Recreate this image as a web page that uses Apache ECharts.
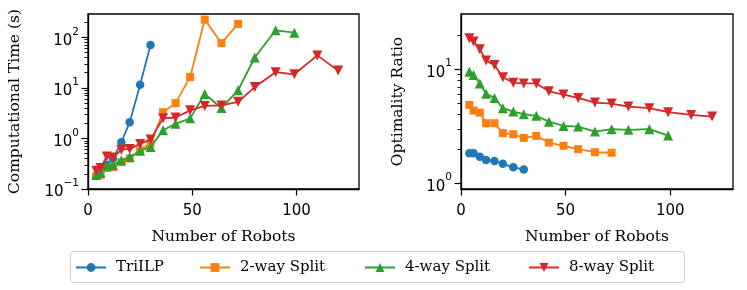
<!DOCTYPE html>
<html>
<head>
<meta charset="utf-8">
<script src="https://cdn.jsdelivr.net/npm/echarts@6/dist/echarts.min.js"></script>
<style>
html,body{margin:0;padding:0;background:#fff;}
#chart{width:747px;height:290px;}
</style>
</head>
<body>
<div id="chart"></div>
<script>
// ---- data ----
const seriesNames = ['TriILP', '2-way Split', '4-way Split', '8-way Split'];
const colors = ['#1f77b4', '#ff7f0e', '#2ca02c', '#d62728'];

const xTriILP = [4, 6, 9, 12, 16, 20, 25, 30];
const x2way = [4, 6, 9, 12, 16, 20, 25, 30, 36, 42, 49, 56, 64, 72];
const x4way = [4, 6, 9, 12, 16, 20, 25, 30, 36, 42, 49, 56, 64, 72, 80, 90, 99];
const x8way = [4, 6, 9, 12, 16, 20, 25, 30, 36, 42, 49, 56, 64, 72, 80, 90, 99, 110, 120];

// Computational time (s)
const timeTriILP = [0.18, 0.22, 0.3, 0.4, 0.84, 2.1, 11.5, 71];
const time2way = [0.18, 0.19, 0.26, 0.27, 0.34, 0.4, 0.58, 0.8, 3.3, 5.0, 16.5, 225, 77, 185];
const time4way = [0.19, 0.21, 0.29, 0.3, 0.37, 0.43, 0.57, 0.68, 1.45, 1.95, 2.5, 7.6, 4.0, 9.0, 40, 138, 124];
const time8way = [0.23, 0.26, 0.44, 0.42, 0.6, 0.62, 0.78, 0.95, 2.5, 2.6, 3.6, 4.4, 4.5, 5.3, 10.4, 20.5, 18.6, 44, 22];

// Optimality ratio
const ratioTriILP = [1.83, 1.83, 1.71, 1.60, 1.57, 1.48, 1.38, 1.32];
const ratio2way = [4.86, 4.34, 4.16, 3.36, 3.36, 2.75, 2.69, 2.50, 2.60, 2.27, 2.13, 1.99, 1.87, 1.85];
const ratio4way = [9.5, 8.9, 7.5, 6.1, 5.6, 4.55, 4.25, 4.03, 3.9, 3.47, 3.18, 3.14, 2.84, 2.98, 2.94, 2.98, 2.62];
const ratio8way = [18.7, 17.5, 15.0, 11.9, 10.9, 8.5, 7.6, 7.5, 7.5, 6.4, 6.0, 5.6, 5.1, 5.0, 4.7, 4.55, 4.2, 3.97, 3.84];

// ticks
const xTicks = [0, 50, 100];
const timeMajor = [0.1, 1, 10, 100];
const timeMinor = [0.2,0.3,0.4,0.5,0.6,0.7,0.8,0.9,2,3,4,5,6,7,8,9,20,30,40,50,60,70,80,90,200];
const ratioMajor = [1, 10];
const ratioMinor = [2,3,4,5,6,7,8,9,20];

// ---- chart ----
const xs = [xTriILP, x2way, x4way, x8way];
const times = [timeTriILP, time2way, time4way, time8way];
const ratios = [ratioTriILP, ratio2way, ratio4way, ratio8way];
const symbols = ['circle', 'rect', 'triangle', 'triangle'];
const symbolSizes = [8.5, 8, 10, 10];
const symbolRotates = [0, 0, 0, 180];

const SANS = 'DejaVu Sans';
const SERIF = 'DejaVu Serif';
const G1 = {left: 88, top: 14, width: 271, height: 175};
const G2 = {left: 461, top: 14, width: 272, height: 175};

function supLabel(v) {
  const e = Math.round(Math.log10(v));
  const s = e < 0 ? '\u2212' + (-e) : String(e);
  return '{b|10}{s|' + s + '}';
}
const richSup = {
  b: {fontSize: 15, fontFamily: SANS, color: '#000', lineHeight: 22, verticalAlign: 'bottom'},
  s: {fontSize: 10.5, fontFamily: SANS, color: '#000', lineHeight: 11, verticalAlign: 'top'}
};

function makeX(gridIndex) {
  return {
    type: 'value', gridIndex: gridIndex, min: 0, max: 130,
    name: 'Number of Robots', nameLocation: 'middle', nameGap: 40,
    nameTextStyle: {fontFamily: SERIF, fontSize: 15.5, color: '#000'},
    axisLine: {show: true, onZero: false, lineStyle: {color: '#000', width: 1.3}},
    axisTick: {show: true, inside: false, length: 6.5, lineStyle: {color: '#000', width: 1.2}, customValues: xTicks},
    axisLabel: {show: true, margin: 15, fontFamily: SANS, fontSize: 15, color: '#000', customValues: xTicks},
    splitLine: {show: false}
  };
}
function makeXHidden(gridIndex) {
  return {type: 'value', gridIndex: gridIndex, min: 0, max: 130, show: false};
}
function makeYMajor(gridIndex, min, max, name, nameGap, major) {
  return {
    type: 'log', logBase: 10, gridIndex: gridIndex, min: min, max: max, position: 'left',
    name: name, nameLocation: 'middle', nameGap: nameGap,
    nameTextStyle: {fontFamily: SERIF, fontSize: 15.5, color: '#000'},
    axisLine: {show: true, onZero: false, lineStyle: {color: '#000', width: 1.3}},
    axisTick: {show: true, length: 6.5, lineStyle: {color: '#000', width: 1.2}, customValues: major},
    axisLabel: {show: true, margin: 9, formatter: supLabel, rich: richSup, customValues: major},
    splitLine: {show: false}
  };
}
// minor ticks: a log axis on an overlaid, invisible grid of the same size
function makeYMinor(gridIndex, min, max, minor) {
  return {
    type: 'log', logBase: 10, gridIndex: gridIndex, min: min, max: max, position: 'left',
    axisLine: {show: false},
    axisTick: {show: true, length: 3.6, lineStyle: {color: '#000', width: 0.9}, customValues: minor},
    axisLabel: {show: false},
    splitLine: {show: false}
  };
}

const series = [];
for (let i = 0; i < 4; i++) {
  const common = {
    type: 'line', name: seriesNames[i], symbol: symbols[i], symbolSize: symbolSizes[i],
    symbolRotate: symbolRotates[i], showAllSymbol: true, animation: false,
    itemStyle: {color: colors[i], opacity: 1}, lineStyle: {color: colors[i], width: 1.8},
    emphasis: {disabled: true}, z: 2 + i
  };
  series.push(Object.assign({}, common, {
    xAxisIndex: 0, yAxisIndex: 0,
    data: xs[i].map((x, k) => [x, times[i][k]])
  }));
  series.push(Object.assign({}, common, {
    xAxisIndex: 1, yAxisIndex: 1,
    data: xs[i].map((x, k) => [x, ratios[i][k]])
  }));
}

const legendLefts = [75, 199, 364, 528];
const legends = seriesNames.map((n, i) => ({
  data: [n], left: legendLefts[i], top: 260, orient: 'horizontal',
  itemWidth: 30, itemHeight: 11, padding: 0,
  textStyle: {fontFamily: SERIF, fontSize: 15, color: '#000', padding: [0, 0, 0, 5]},
  selectedMode: false
}));

const chart = echarts.init(document.getElementById('chart'), null, {renderer: 'canvas'});
chart.setOption({
  animation: false,
  backgroundColor: '#fff',
  color: colors,
  grid: [
    Object.assign({show: true, borderColor: '#000', borderWidth: 1.3, backgroundColor: 'transparent'}, G1),
    Object.assign({show: true, borderColor: '#000', borderWidth: 1.3, backgroundColor: 'transparent'}, G2),
    Object.assign({show: false}, G1),
    Object.assign({show: false}, G2)
  ],
  xAxis: [makeX(0), makeX(1), makeXHidden(2), makeXHidden(3)],
  yAxis: [
    makeYMajor(0, 0.1, 290, 'Computational Time (s)', 65, timeMajor),
    makeYMajor(1, 0.89, 30.5, 'Optimality Ratio', 55, ratioMajor),
    makeYMinor(2, 0.1, 290, timeMinor),
    makeYMinor(3, 0.89, 30.5, ratioMinor)
  ],
  graphic: [{
    type: 'rect', left: 70, top: 251, z: -1,
    shape: {width: 614, height: 31, r: 3},
    style: {fill: '#fff', stroke: '#cccccc', lineWidth: 1}
  }],
  legend: legends,
  series: series
});
</script>
</body>
</html>
